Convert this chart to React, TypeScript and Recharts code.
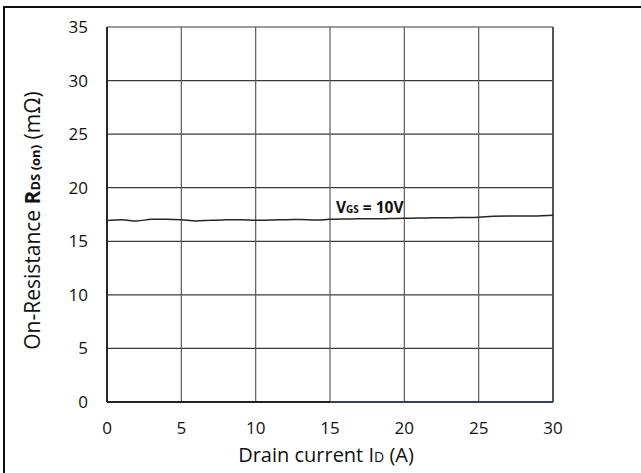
import React from 'react';
import { LineChart, Line, XAxis, YAxis, CartesianGrid, ReferenceLine, ReferenceDot } from 'recharts';

const currentA = [0, 1, 2, 3, 4, 5, 6, 7, 8, 9, 10, 11, 12, 13, 14, 15, 16, 17, 18, 19, 20, 21, 22, 23, 24, 25, 26, 27, 28, 29, 30];
const rdsOn = [16.95, 17.0, 16.9, 17.05, 17.05, 17.0, 16.9, 16.97, 17.0, 17.02, 16.97, 16.98, 17.02, 17.03, 16.98, 17.05, 17.08, 17.1, 17.1, 17.12, 17.15, 17.17, 17.2, 17.2, 17.22, 17.25, 17.33, 17.35, 17.35, 17.37, 17.42];
const xTicks = [0, 5, 10, 15, 20, 25, 30];
const yTicks = [0, 5, 10, 15, 20, 25, 30, 35];
const annotationAt = { x: 15.4, y: 17.64 };

const data = currentA.map((id, i) => ({ id, r: rdsOn[i] }));

const FONT = '"Open Sans", sans-serif';

const XLabel = (props: any) => {
  const vb = props.viewBox || {};
  return (
    <text x={vb.x + vb.width / 2 - 4} y={vb.y + 60} textAnchor="middle" fontFamily={FONT} fontSize={20} fill="#111">
      Drain current I<tspan fontSize={14}>D</tspan> (A)
    </text>
  );
};

const YLabel = (props: any) => {
  const vb = props.viewBox || {};
  const cx = vb.x + 40;
  const cy = vb.y + vb.height / 2 + 6;
  return (
    <text x={cx} y={cy} textAnchor="middle" transform={`rotate(-90, ${cx}, ${cy})`} fontFamily={FONT} fontSize={21} fill="#111">
      On-Resistance <tspan fontWeight="bold">R</tspan>
      <tspan fontWeight="bold" fontSize={13}>DS (on)</tspan> (mΩ)
    </text>
  );
};

const VgsLabel = (props: any) => {
  const vb = props.viewBox || {};
  const x = vb.x + (vb.width || 0) / 2;
  const y = vb.y + (vb.height || 0) / 2;
  return (
    <text x={x} y={y} fontFamily={FONT} fontSize={15.5} fontWeight="bold" fill="#111">
      V<tspan fontSize={10}>GS</tspan> = 10V
    </text>
  );
};

export default function App() {
  return (
    <div style={{ position: 'absolute', left: 0, top: 0, width: 641, height: 473, background: '#fff' }}>
      <div style={{ position: 'absolute', left: 3, top: 6, width: 638, height: 467, borderTop: '2px solid #111', borderLeft: '2px solid #111', boxSizing: 'border-box' }} />
      <div style={{ position: 'absolute', left: 0, top: 0 }}>
        <LineChart width={641} height={473} data={data} margin={{ top: 27, right: 88, bottom: 11, left: 0 }}>
          <CartesianGrid horizontal={true} vertical={false} stroke="#3a3a3a" strokeWidth={1.2} />
          <CartesianGrid horizontal={false} vertical={true} stroke="#5a5a5a" strokeWidth={1.2} />
          <XAxis
            dataKey="id"
            type="number"
            domain={[0, 30]}
            ticks={xTicks}
            height={60}
            axisLine={false}
            tickLine={false}
            tickSize={0}
            tickMargin={20}
            tick={{ fontFamily: FONT, fontSize: 17, fill: '#111' }}
            label={(p: any) => <XLabel {...p} />}
          />
          <YAxis
            type="number"
            domain={[0, 35]}
            ticks={yTicks}
            width={107}
            axisLine={{ stroke: '#262626', strokeWidth: 2 }}
            tickLine={false}
            tickSize={0}
            tickMargin={19}
            tick={{ fontFamily: FONT, fontSize: 17, fill: '#111' }}
            label={(p: any) => <YLabel {...p} />}
          />
          <ReferenceLine x={30} stroke="#555" strokeWidth={2} />
          <ReferenceLine segment={[{ x: 0, y: 0 }, { x: 15, y: 0 }]} stroke="#222" strokeWidth={2} />
          <ReferenceLine segment={[{ x: 15, y: 0 }, { x: 30, y: 0 }]} stroke="#2c4766" strokeWidth={2} />
          <Line type="monotone" dataKey="r" stroke="#262626" strokeWidth={1.5} dot={false} isAnimationActive={false} />
          <ReferenceDot x={annotationAt.x} y={annotationAt.y} r={2} fill="none" stroke="none" label={(p: any) => <VgsLabel {...p} />} />
        </LineChart>
      </div>
    </div>
  );
}
